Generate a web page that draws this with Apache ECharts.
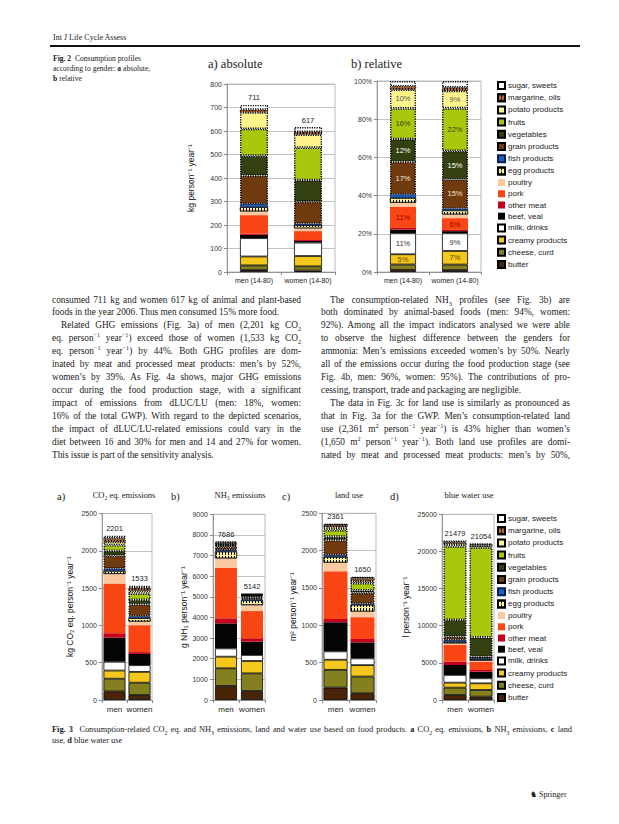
<!DOCTYPE html>
<html><head><meta charset="utf-8">
<script src="https://cdn.jsdelivr.net/npm/echarts@6/dist/echarts.min.js"></script>
<style>
html,body{margin:0;padding:0;background:#fff}
body{width:619px;height:824px;overflow:hidden;position:relative;font-family:"Liberation Serif","Times New Roman",serif;color:#1a1a1a}
#chart{position:absolute;left:0;top:0;width:619px;height:824px}
.t{position:absolute;white-space:nowrap}
.col{position:absolute;width:249px;font-size:9.3px}
.col div{height:12.97px;line-height:12.97px;text-align:justify;text-align-last:justify;overflow:visible}
.col div.e{text-align-last:left}
.col div.i{text-indent:9px}
sup,sub{font-size:6.2px;line-height:0}
.cap{font-size:7.6px;line-height:10px}
.cap3{font-size:8.35px;line-height:11px}
.cap3 sub{font-size:5.8px}
b{font-weight:bold}
</style></head>
<body>
<div class="t" style="left:53px;top:33px;font-size:8px">Int J Life Cycle Assess</div>
<div style="position:absolute;left:50px;top:45px;width:530px;height:2px;background:#111"></div>
<div class="t cap" style="left:53px;top:54px;white-space:normal;width:130px"><b>Fig. 2</b>&nbsp; Consumption profiles<br>according to gender: <b>a</b> absolute,<br><b>b</b> relative</div>

<div class="col" style="left:52px;top:293.5px">
<div>consumed 711 kg and women 617 kg of animal and plant-based</div>
<div class="e">foods in the year 2006. Thus men consumed 15% more food.</div>
<div class="i">Related GHG emissions (Fig. 3a) of men (2,201 kg CO<sub>2</sub></div>
<div>eq. person<sup>−1</sup> year<sup>−1</sup>) exceed those of women (1,533 kg CO<sub>2</sub></div>
<div>eq. person<sup>−1</sup> year<sup>−1</sup>) by 44%. Both GHG profiles are dom-</div>
<div>inated by meat and processed meat products: men’s by 52%,</div>
<div>women’s by 39%. As Fig. 4a shows, major GHG emissions</div>
<div>occur during the food production stage, with a significant</div>
<div>impact of emissions from dLUC/LU (men: 18%, women:</div>
<div>16% of the total GWP). With regard to the depicted scenarios,</div>
<div>the impact of dLUC/LU-related emissions could vary in the</div>
<div>diet between 16 and 30% for men and 14 and 27% for women.</div>
<div class="e">This issue is part of the sensitivity analysis.</div>
</div>
<div class="col" style="left:321px;top:293.5px">
<div class="i">The consumption-related NH<sub>3</sub> profiles (see Fig. 3b) are</div>
<div>both dominated by animal-based foods (men: 94%, women:</div>
<div>92%). Among all the impact indicators analysed we were able</div>
<div>to observe the highest difference between the genders for</div>
<div>ammonia: Men’s emissions exceeded women’s by 50%. Nearly</div>
<div>all of the emissions occur during the food production stage (see</div>
<div>Fig. 4b, men: 96%, women: 95%). The contributions of pro-</div>
<div class="e">cessing, transport, trade and packaging are negligible.</div>
<div class="i">The data in Fig. 3c for land use is similarly as pronounced as</div>
<div>that in Fig. 3a for the GWP. Men’s consumption-related land</div>
<div>use (2,361 m<sup>2</sup> person<sup>−1</sup> year<sup>−1</sup>) is 43% higher than women’s</div>
<div>(1,650 m<sup>2</sup> person<sup>−1</sup> year<sup>−1</sup>). Both land use profiles are domi-</div>
<div>nated by meat and processed meat products: men’s by 50%,</div>
</div>

<div class="t cap3" style="left:52px;top:724px;width:520px;white-space:normal">
<div style="text-align:justify;text-align-last:justify;height:11px;overflow:visible"><b>Fig. 3</b>&nbsp; Consumption-related CO<sub>2</sub> eq. and NH<sub>3</sub> emissions, land and water use based on food products. <b>a</b> CO<sub>2</sub> eq. emissions, <b>b</b> NH<sub>3</sub> emissions, <b>c</b> land</div>
<div>use, <b>d</b> blue water use</div>
</div>
<div class="t" style="left:530px;top:790px;font-size:8px">♞ Springer</div>

<div id="chart"></div>
<script>
// ---------- data ----------
const foods = ['butter','cheese, curd','creamy products','milk, drinks','beef, veal','other meat','pork','poultry','egg products','fish products','grain products','vegetables','fruits','potato products','margarine, oils','sugar, sweets'];
const genders2 = ['men (14-80)','women (14-80)'];
const genders3 = ['men','women'];

const consMen   = [8,20,38,78,14,6,78,16,18,13,121,85,114,70,12,20];
const consWomen = [6,18,44,57,7,4,38,12,13,6,94,92,138,56,11,21];
const consTotals = [711,617];

const co2Men   = [115,170,110,118,324,58,665,130,40,30,175,65,75,45,45,36];
const co2Women = [67,165,145,90,150,25,360,50,45,25,160,60,85,40,35,31];
const co2Totals = [2201,1533];

const nh3Men   = [680,855,565,400,1215,245,2455,450,335,60,160,80,30,40,60,56];
const nh3Women = [436,854,600,290,650,160,1320,290,230,40,110,60,25,30,30,17];
const nh3Totals = [7686,5142];

const landMen   = [166,238,135,112,390,45,638,116,76,24,200,46,90,35,30,20];
const landWomen = [90,224,153,90,215,45,292,76,90,13,148,32,98,30,30,24];
const landTotals = [2361,1650];

const waterMen   = [673,987,675,1035,1345,445,2240,230,230,220,450,2250,9920,330,180,269];
const waterWomen = [450,900,895,675,895,225,1125,150,150,135,240,2600,12120,250,130,114];
const waterTotals = [21479,21054];

const pctLabelFoods = ['creamy products','milk, drinks','pork','grain products','vegetables','fruits','potato products'];

// ---------- styles ----------
const fillColors = ['#4a2408','#85801f','#f4c81c','#ffffff','#050505','#c4001c','#fa4614','#fbc9a0','#fff29a','#1f5fbf','#6e3a0e','#33400f','#a9c70c','#fff48c','#b0682c','#ffffff'];
const dottedFoods = ['grain products','vegetables','fruits','potato products','margarine, oils','sugar, sweets'];
const pctLabelColors = {'creamy products':'#6a4800','milk, drinks':'#333','pork':'#a00000','grain products':'#f3e6d6','vegetables':'#ffffff','fruits':'#3d4418','potato products':'#555'};
const sans = 'Liberation Sans, Arial, sans-serif';

function itemStyle(i){
  const f = foods[i];
  const s = {color: fillColors[i]};
  if (dottedFoods.includes(f)) { s.borderColor='#000'; s.borderWidth=1.4; s.borderType=[1.2,1.2]; }
  else if (['butter','cheese, curd','creamy products','milk, drinks'].includes(f)) { s.borderColor='#000'; s.borderWidth=0.8; }
  else if (f==='fish products') { s.borderColor='#0a1f50'; s.borderWidth=0.8; }
  if (f==='egg products' || f==='margarine, oils') {
    s.decal = {symbol:'rect', symbolSize:1, color:'#000', dashArrayX:[1,1.5], dashArrayY:[3,1], rotation:0};
    s.borderColor='#000'; s.borderWidth=0.6;
  }
  return s;
}

const charts = [
  {men:consMen, women:consWomen, totals:consTotals, cats:genders2, grid:{left:227,top:84,width:108,height:188}, max:800, interval:100, barWidth:28, name:'kg person⁻¹ year⁻¹', nameGap:32, pct:false, xfs:7},
  {men:consMen, women:consWomen, totals:consTotals, cats:genders2, grid:{left:377,top:81,width:104,height:191}, max:100, interval:20, barWidth:26, name:'', nameGap:0, pct:true, xfs:7},
  {men:co2Men, women:co2Women, totals:co2Totals, cats:genders3, grid:{left:102,top:513.5,width:50,height:186.5}, max:2500, interval:500, barWidth:22, name:'kg CO₂ eq. person⁻¹ year⁻¹', nameGap:28, pct:false, xfs:8},
  {men:nh3Men, women:nh3Women, totals:nh3Totals, cats:genders3, grid:{left:213,top:514.3,width:52,height:185.7}, max:9000, interval:1000, barWidth:22, name:'g NH₃ person⁻¹ year⁻¹', nameGap:24, pct:false, xfs:8},
  {men:landMen, women:landWomen, totals:landTotals, cats:genders3, grid:{left:322,top:513.3,width:54,height:186.7}, max:2500, interval:500, barWidth:24, name:'m² person⁻¹ year⁻¹', nameGap:22, pct:false, xfs:8},
  {men:waterMen, women:waterWomen, totals:waterTotals, cats:genders3, grid:{left:442,top:514.3,width:52,height:185.7}, max:25000, interval:5000, barWidth:23, name:'l person⁻¹ year⁻¹', nameGap:32, pct:false, xfs:8}
];

const grids=[], xAxes=[], yAxes=[], series=[];
charts.forEach((c,ci)=>{
  grids.push(Object.assign({show:true, borderColor:'#a8a8a8', borderWidth:0.8, containLabel:false}, c.grid));
  xAxes.push({gridIndex:ci, type:'category', data:c.cats,
    axisLine:{lineStyle:{color:'#888',width:0.8}}, axisTick:{show:true,length:3,lineStyle:{color:'#888'}},
    axisLabel:{interval:0, fontSize:c.xfs, color:'#222', margin:5, fontFamily:sans}});
  yAxes.push({gridIndex:ci, type:'value', min:0, max:c.max, interval:c.interval,
    axisLine:{show:true,lineStyle:{color:'#888',width:0.8}}, axisTick:{show:true,length:3,lineStyle:{color:'#888'}},
    splitLine:{lineStyle:{color:'#b4b4b4',width:0.8}},
    axisLabel:{fontSize:7, color:'#333', margin:5, fontFamily:sans, formatter: c.pct ? (v=>v+'%') : (v=>String(v))},
    name:c.name, nameLocation:'middle', nameGap:c.nameGap, nameRotate:90,
    nameTextStyle:{fontSize:8.5, color:'#111', fontFamily:sans}});
  foods.forEach((f,i)=>{
    let data = [c.men[i], c.women[i]];
    if (c.pct) data = data.map((v,k)=> v / c.totals[k] * 100);
    const s = {type:'bar', name:f, stack:'st'+ci, xAxisIndex:ci, yAxisIndex:ci, barWidth:c.barWidth,
      data:data, itemStyle:itemStyle(i), emphasis:{disabled:true}, animation:false};
    if (c.pct && pctLabelFoods.includes(f)) {
      s.label = {show:true, position:'inside', fontSize:7.5, color:pctLabelColors[f], fontFamily:sans,
        formatter:p=>Math.round(p.value)+'%'};
    }
    if (!c.pct && i===foods.length-1) {
      s.label = {show:true, position:'top', distance:3, fontSize:7.5, color:'#222', fontFamily:sans,
        formatter:p=>String(c.totals[p.dataIndex])};
    }
    series.push(s);
  });
});

const legendBase = {orient:'vertical', left:497, icon:'rect', itemWidth:7, itemHeight:7, itemGap:3.2, padding:0,
  selectedMode:false, data: foods.slice().reverse(),
  textStyle:{fontSize:8, lineHeight:8, color:'#222', fontFamily:sans, padding:[0,0,0,-2]}};

const serif = 'Liberation Serif, Times New Roman, serif';
function gtext(text,x,y,size,align){return {type:'text', x:x, y:y, style:{text:text, fontSize:size, fontFamily:serif, fill:'#1a1a1a', align:align||'left', verticalAlign:'middle'}};}

const chart = echarts.init(document.getElementById('chart'), null, {renderer:'svg'});
chart.setOption({
  animation:false,
  grid:grids, xAxis:xAxes, yAxis:yAxes, series:series,
  legend:[Object.assign({top:81}, legendBase), Object.assign({top:514}, legendBase)],
  graphic:[
    gtext('a) absolute',208,64,12.5),
    gtext('b) relative',351,64,12.5),
    gtext('a)',57,496,10.5),
    gtext('CO₂ eq. emissions',124,495,8.5,'center'),
    gtext('b)',171,496,10.5),
    gtext('NH₃ emissions',240,495,8.5,'center'),
    gtext('c)',282,496,10.5),
    gtext('land use',349,495,8.5,'center'),
    gtext('d)',390,496,10.5),
    gtext('blue water use',469,495,8.5,'center')
  ]
});
</script>
</body></html>
